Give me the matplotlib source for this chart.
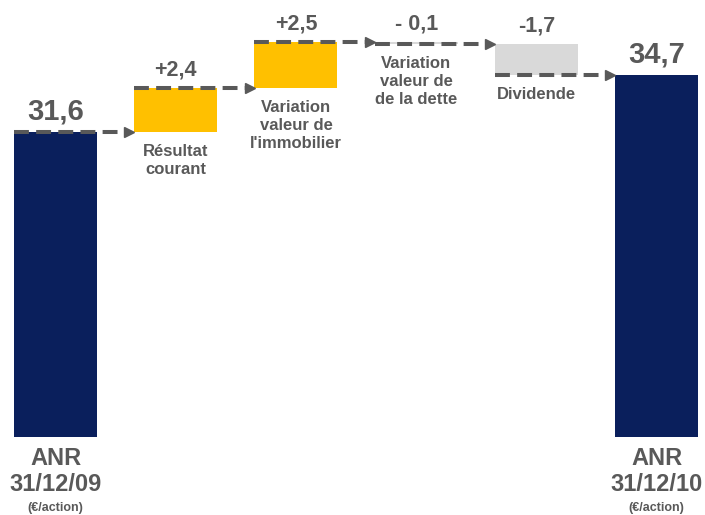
import matplotlib.pyplot as plt

# Waterfall de l'ANR par action
labels = ['ANR\n31/12/09', 'Résultat\ncourant', "Variation\nvaleur de\nl'immobilier",
          'Variation\nvaleur de\nde la dette', 'Dividende', 'ANR\n31/12/10']
values = [31.6, 2.4, 2.5, -0.1, -1.7, 34.7]
value_texts = ['31,6', '+2,4', '+2,5', '- 0,1', '-1,7', '34,7']
kinds = ['total', 'up', 'up', 'down', 'down', 'total']

base = 15.0
navy = '#0a1f5c'
gold = '#ffc000'
grey = '#d9d9d9'
txt = '#595959'
colors = {'total': navy, 'up': gold, 'down': grey}

plt.rcParams['font.family'] = ['Liberation Sans', 'DejaVu Sans']

fig = plt.figure(figsize=(7.05, 5.15), dpi=100)
ax = fig.add_axes([0, 0, 1, 1])
ax.set_xlim(-0.462, 5.403)
ax.set_ylim(10.76, 38.78)
ax.axis('off')

w = 0.69
running = 0.0
levels = []
for i, (v, k) in enumerate(zip(values, kinds)):
    if k == 'total':
        bottom, top = base, v
        running = v
    else:
        start = running
        running = running + v
        bottom, top = min(start, running), max(start, running)
    levels.append(running)
    ax.bar(i, top - bottom, bottom=bottom, width=w, color=colors[k], zorder=2)

    big = k == 'total'
    ax.annotate(value_texts[i], (i, top), xytext=(0, 5 if big else 5),
                textcoords='offset points', ha='center', va='bottom',
                fontsize=21 if big else 15.5, fontweight='bold', color=txt)

    if big:
        ax.annotate(labels[i], (i, base), xytext=(0, -7), textcoords='offset points',
                    ha='center', va='top', fontsize=17, fontweight='bold',
                    color=txt, linespacing=1.2)
        ax.annotate('(€/action)', (i, base), xytext=(0, -47), textcoords='offset points',
                    ha='center', va='top', fontsize=9, fontweight='bold', color=txt)
    else:
        ax.annotate(labels[i], (i, bottom), xytext=(0, -9), textcoords='offset points',
                    ha='center', va='top', fontsize=12, fontweight='bold',
                    color=txt, linespacing=1.25)

# pointillés entre les barres, avec une petite flèche
for i in range(len(values) - 1):
    y = levels[i]
    x0 = i - w / 2
    x1 = i + 1 - w / 2
    ax.plot([x0, x1 - 0.05], [y, y], color=txt, lw=2.9, dashes=(3.7, 1.8), zorder=3)
    ax.plot([x1 - 0.04], [y], marker='>', color=txt, markersize=6.5, zorder=3)

fig.savefig('out.png', dpi=100)
